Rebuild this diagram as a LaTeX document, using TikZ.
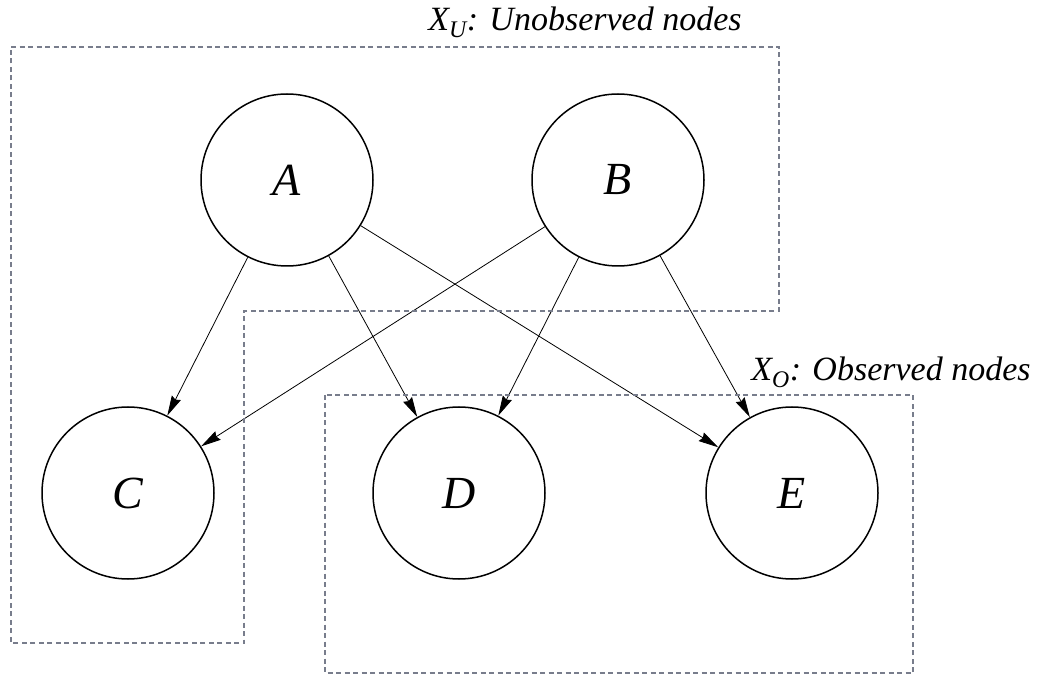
\documentclass[tikz,border=0pt]{standalone}
\usepackage{fontspec}
\setmainfont{Liberation Serif}
\usetikzlibrary{arrows.meta}
\definecolor{setline}{RGB}{120,125,140}
\begin{document}
\begin{tikzpicture}[x=1pt,y=-1pt,
  var/.style={circle,draw,line width=1.5pt,minimum size=172pt,inner sep=0pt,
    font=\fontsize{46}{46}\selectfont\itshape},
  edge/.style={line width=0.8pt,-{Stealth[length=20pt,width=10pt,inset=2pt]}},
  region/.style={draw=setline,line width=1.1pt,dash pattern=on 5pt off 3.5pt},
  caption/.style={font=\fontsize{34}{34}\selectfont\itshape,inner sep=0pt}]
\useasboundingbox (0,0) rectangle (1045,676);

% variables
\node[var] (A) at (287,180) {A};
\node[var] (B) at (618,180) {B};
\node[var] (C) at (128,493) {C};
\node[var] (D) at (459,493) {D};
\node[var] (E) at (792,493) {E};

% dependencies
\draw[edge] (A) -- (C);
\draw[edge] (A) -- (D);
\draw[edge] (A) -- (E);
\draw[edge] (B) -- (C);
\draw[edge] (B) -- (D);
\draw[edge] (B) -- (E);

% unobserved set
\draw[region] (11,47) -- (779,47) -- (779,311) -- (244,311) -- (244,643) -- (11,643) -- cycle;
% observed set
\draw[region] (325,395) rectangle (913,673);

% captions
\node[caption] (lu) at (585,22) {X\textsubscript{U}: Unobserved nodes};
\node[caption] (lo) at (891,372) {X\textsubscript{O}: Observed nodes};
\end{tikzpicture}
\end{document}
